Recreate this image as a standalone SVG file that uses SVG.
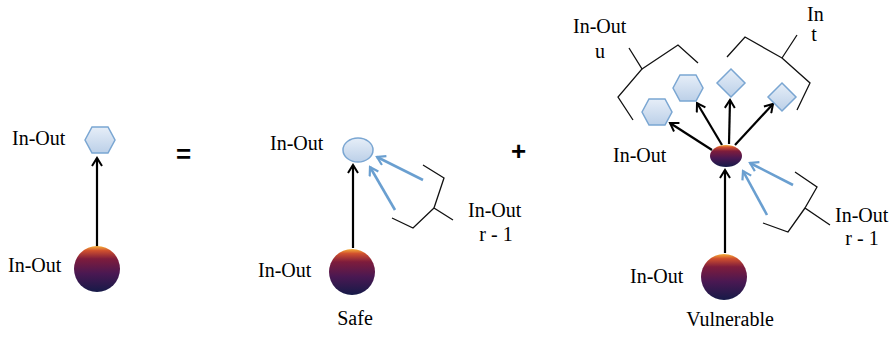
<svg xmlns="http://www.w3.org/2000/svg" width="893" height="340" viewBox="0 0 893 340">
<defs>
<linearGradient id="ball" x1="0" y1="0" x2="0" y2="1">
<stop offset="0" stop-color="#f6b03a"/>
<stop offset="0.1" stop-color="#d0502e"/>
<stop offset="0.28" stop-color="#7e1c3c"/>
<stop offset="0.6" stop-color="#4a1852"/>
<stop offset="1" stop-color="#161a48"/>
</linearGradient>
<linearGradient id="ice" x1="0" y1="0" x2="0" y2="1">
<stop offset="0" stop-color="#e6eef8"/>
<stop offset="1" stop-color="#bcd0e8"/>
</linearGradient>
<marker id="ab" viewBox="0 0 12 12" refX="10" refY="6" markerWidth="12" markerHeight="12" markerUnits="userSpaceOnUse" orient="auto">
<polyline points="2,1 10,6 2,11" fill="none" stroke="#000" stroke-width="2"/>
</marker>
<marker id="au" viewBox="0 0 12 12" refX="10" refY="6" markerWidth="12" markerHeight="12" markerUnits="userSpaceOnUse" orient="auto">
<polyline points="2,1 10,6 2,11" fill="none" stroke="#6a9fd0" stroke-width="2.2"/>
</marker>
</defs>
<style>
.t{font-family:"Liberation Serif","DejaVu Serif",serif;font-size:20px;fill:#000}
.op{font-family:"Liberation Sans",Arial,sans-serif;font-size:26px;font-weight:bold;fill:#000}
.sh{fill:url(#ice);stroke:#7aa6d2;stroke-width:1.5}
.ball{fill:url(#ball)}
.k{stroke:#000;stroke-width:2.2;fill:none}
.b{stroke:#6a9fd0;stroke-width:2.6;fill:none}
.br{stroke:#111;stroke-width:1.3;fill:none}
</style>
<rect width="893" height="340" fill="#fff"/>

<g id="connectors">
<line class="k" x1="97" y1="248" x2="97" y2="158" marker-end="url(#ab)"/>
<line class="k" x1="353" y1="248" x2="353" y2="165" marker-end="url(#ab)"/>
<line class="b" x1="423" y1="180" x2="377" y2="157" marker-end="url(#au)"/>
<line class="b" x1="395" y1="210" x2="370" y2="167" marker-end="url(#au)"/>
<line class="k" x1="725" y1="253" x2="725" y2="170" marker-end="url(#ab)"/>
<line class="b" x1="793" y1="185" x2="750" y2="163" marker-end="url(#au)"/>
<line class="b" x1="767" y1="215" x2="743" y2="171" marker-end="url(#au)"/>
<line class="k" x1="712" y1="150" x2="670" y2="123" marker-end="url(#ab)"/>
<line class="k" x1="722" y1="145" x2="697" y2="103" marker-end="url(#ab)"/>
<line class="k" x1="729" y1="144" x2="730" y2="100" marker-end="url(#ab)"/>
<line class="k" x1="735" y1="145" x2="773" y2="104" marker-end="url(#ab)"/>
</g>

<g id="left-top">
<polygon class="sh" points="85,140 92,127 108,127 115,140 108,153 92,153"/>
<text class="t" x="12" y="145">In-Out</text>
</g>
<g id="left-bottom">
<circle class="ball" cx="97" cy="269" r="23"/>
<text class="t" x="8" y="272">In-Out</text>
</g>
<text class="op" x="176" y="163">=</text>

<g id="mid-top">
<ellipse class="sh" cx="358" cy="150" rx="15" ry="12"/>
<text class="t" x="270" y="150">In-Out</text>
</g>
<g id="mid-bottom">
<circle class="ball" cx="352" cy="272" r="23"/>
<text class="t" x="258" y="277">In-Out</text>
<text class="t" x="355" y="325" text-anchor="middle">Safe</text>
</g>
<g id="mid-brace">
<polyline class="br" points="423,165 444,178 434,208 453,220"/>
<polyline class="br" points="434,208 413,228 392,218"/>
<text class="t" x="468" y="217">In-Out</text>
<text class="t" x="496" y="241" text-anchor="middle">r - 1</text>
</g>
<text class="op" x="511" y="160">+</text>

<g id="right-top">
<ellipse class="ball" cx="726" cy="156" rx="16" ry="11"/>
<text class="t" x="613" y="162">In-Out</text>
</g>
<g id="hex1"><polygon class="sh" points="642,112 649,99 665,99 672,112 665,125 649,125"/></g>
<g id="hex2"><polygon class="sh" points="673,88 680,75 696,75 703,88 696,101 680,101"/></g>
<g id="dia1"><polygon class="sh" points="731,69 745,83 731,97 717,83"/></g>
<g id="dia2"><polygon class="sh" points="782,83 796,97 782,111 768,97"/></g>
<g id="brace-u">
<polyline class="br" points="633,120 618,97 642,69 629,48"/>
<polyline class="br" points="642,69 678,45 698,63"/>
<text class="t" x="573" y="33">In-Out</text>
<text class="t" x="600" y="58" text-anchor="middle">u</text>
</g>
<g id="brace-t">
<polyline class="br" points="727,57 745,37 782,58 797,35"/>
<polyline class="br" points="782,58 810,83 797,110"/>
<text class="t" x="807" y="21">In</text>
<text class="t" x="814" y="41" text-anchor="middle">t</text>
</g>
<g id="right-bottom">
<circle class="ball" cx="724" cy="277" r="23"/>
<text class="t" x="630" y="283">In-Out</text>
<text class="t" x="730" y="326" text-anchor="middle">Vulnerable</text>
</g>
<g id="right-brace">
<polyline class="br" points="795,172 817,187 805,208 830,225"/>
<polyline class="br" points="805,208 788,232 763,223"/>
<text class="t" x="835" y="222">In-Out</text>
<text class="t" x="862" y="245" text-anchor="middle">r - 1</text>
</g>
</svg>
